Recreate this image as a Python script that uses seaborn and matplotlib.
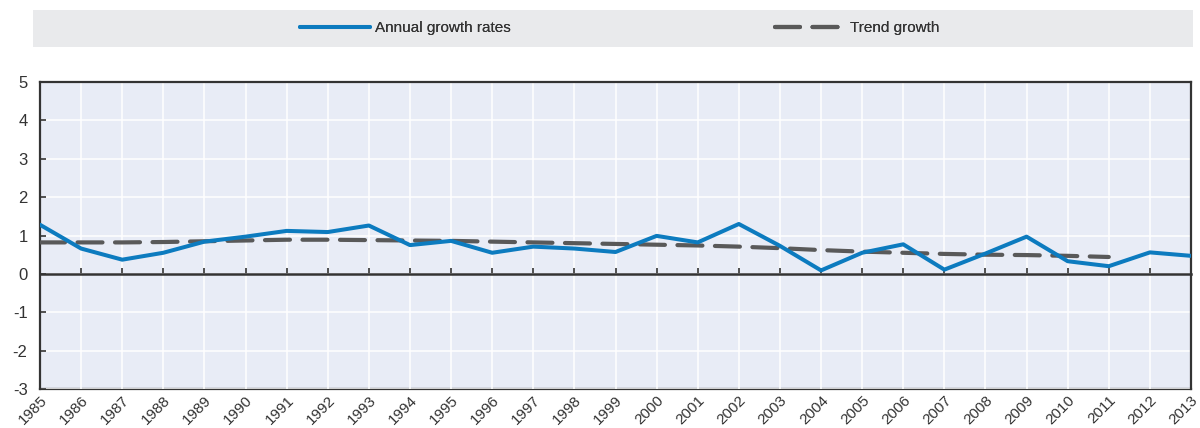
import matplotlib
matplotlib.use("Agg")
import matplotlib.pyplot as plt
from matplotlib.patches import Rectangle
from matplotlib.lines import Line2D
import seaborn as sns
import pandas as pd

years = list(range(1985, 2014))
annual_growth = [1.28, 0.66, 0.37, 0.55, 0.84, 0.97, 1.12, 1.09, 1.26, 0.75,
                 0.86, 0.55, 0.71, 0.66, 0.57, 0.99, 0.82, 1.30, 0.73, 0.09,
                 0.55, 0.77, 0.11, 0.53, 0.97, 0.33, 0.20, 0.56, 0.47]
trend_years = list(range(1985, 2012))
trend_growth = [0.82, 0.82, 0.82, 0.83, 0.85, 0.87, 0.89, 0.89, 0.88, 0.87,
                0.86, 0.84, 0.82, 0.80, 0.78, 0.76, 0.74, 0.71, 0.67, 0.62,
                0.58, 0.55, 0.52, 0.50, 0.49, 0.47, 0.44]
series_labels = ["Annual growth rates", "Trend growth"]
y_ticks = [-3, -2, -1, 0, 1, 2, 3, 4, 5]

BLUE = "#0c7bbf"
GREY = "#595959"
TEXT = "#333333"

sns.set_theme(style="darkgrid")
plt.rcParams["font.family"] = ["Liberation Sans", "DejaVu Sans"]

fig = plt.figure(figsize=(12, 4.28), dpi=100)
ax = fig.add_axes([40 / 1200, 1 - 389 / 428, 1151 / 1200, 307 / 428])
ax.set_facecolor("#e8ecf6")

df_annual = pd.DataFrame({"year": years, "value": annual_growth})
df_trend = pd.DataFrame({"year": trend_years, "value": trend_growth})

sns.lineplot(data=df_trend, x="year", y="value", ax=ax, color=GREY, lw=3.0,
             zorder=3)
ax.lines[-1].set_dashes((6, 3))
ax.lines[-1].set_dash_capstyle("round")
sns.lineplot(data=df_annual, x="year", y="value", ax=ax, color=BLUE, lw=2.9,
             zorder=4)

ax.set_xlim(years[0], years[-1])
ax.set_ylim(-3, 5)
ax.set_xlabel("")
ax.set_ylabel("")
ax.set_xticks(years)
ax.set_yticks(y_ticks)
ax.set_yticklabels([str(v) for v in y_ticks], fontsize=12, color=TEXT)
ax.grid(True, color="white", lw=1.1)
ax.set_axisbelow(True)

for s in ax.spines.values():
    s.set_visible(True)
    s.set_color(TEXT)
    s.set_linewidth(1.6)

# the main x axis sits on the zero line with upward tick marks
ax.spines["bottom"].set_position(("data", 0))
ax.spines["bottom"].set_linewidth(1.8)
ax.spines["bottom"].set_zorder(2.5)
ax.tick_params(axis="x", direction="in", length=4, width=1.2, color=TEXT,
               bottom=True, labelbottom=False)
ax.tick_params(axis="y", direction="in", length=4, width=1.2, color=TEXT,
               left=True, pad=9)

# year labels along the bottom edge of the frame
year_axis = ax.secondary_xaxis("bottom")
year_axis.set_xticks(years)
year_axis.set_xticklabels([str(y) for y in years], rotation=45, ha="right",
                          rotation_mode="anchor", fontsize=11, color=TEXT)
year_axis.tick_params(length=0, pad=3)
year_axis.spines["bottom"].set_color(TEXT)
year_axis.spines["bottom"].set_linewidth(1.6)

# legend band across the top
fig.patches.append(Rectangle((33 / 1200, 1 - 47 / 428), 1160 / 1200, 37 / 428,
                             transform=fig.transFigure, facecolor="#e9eaec",
                             edgecolor="none", zorder=0))
handles = [
    Line2D([], [], color=BLUE, lw=2.9, solid_capstyle="round"),
    Line2D([], [], color=GREY, lw=3.0, dashes=(6, 3), dash_capstyle="round"),
]
legend_x = [300 / 1200, 775 / 1200]
for handle, label, lx in zip(handles, series_labels, legend_x):
    leg = fig.legend([handle], [label], loc="center left",
                     bbox_to_anchor=(lx, 1 - 28 / 428), frameon=False,
                     fontsize=11, handlelength=4.6, handletextpad=0.3,
                     borderpad=0, borderaxespad=0, labelcolor=TEXT)
    fig.add_artist(leg)

fig.savefig("out.png", dpi=100)
